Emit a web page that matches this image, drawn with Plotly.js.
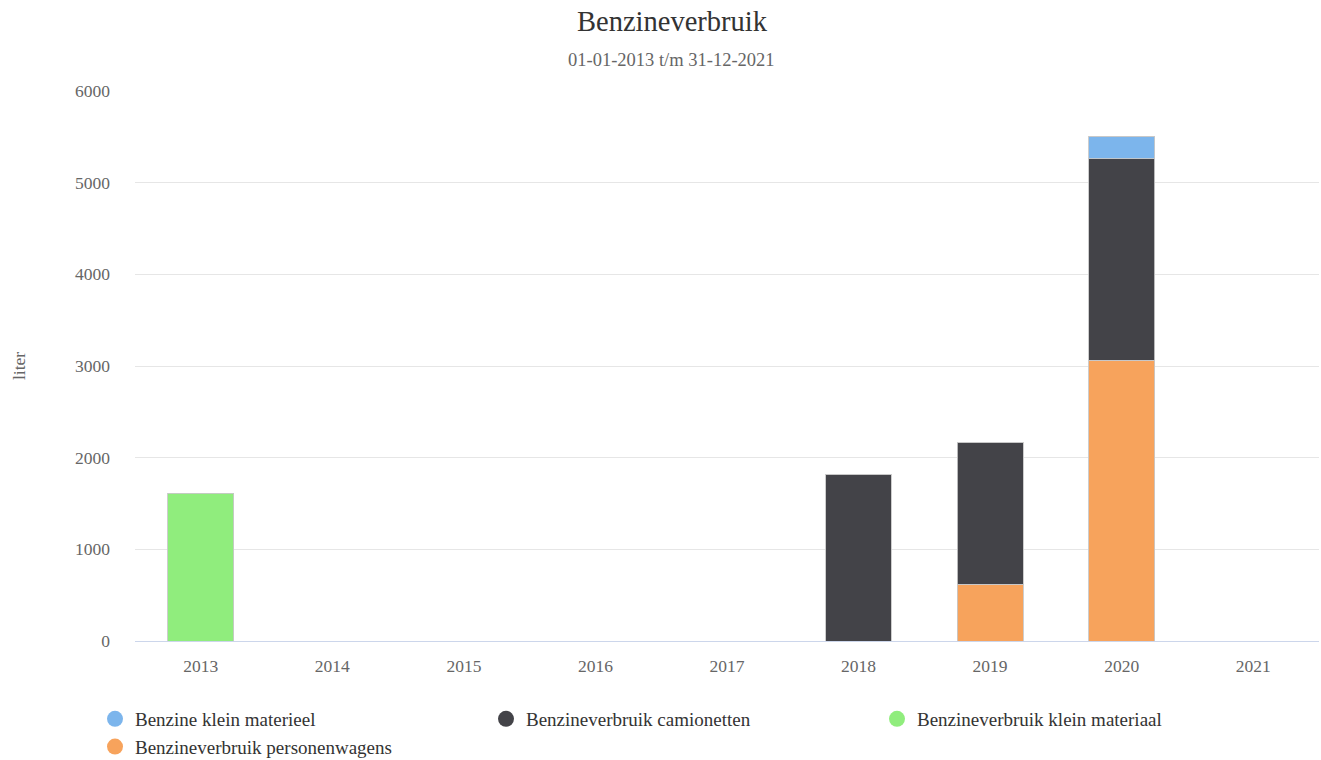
<!DOCTYPE html>
<html>
<head>
<meta charset="utf-8">
<script src="https://cdn.plot.ly/plotly-3.0.1.min.js"></script>
<style>html,body{margin:0;padding:0;background:#fff;}#chart{width:1321px;height:760px;}</style>
</head>
<body>
<div id="chart"></div>
<script>
const years = ['2013','2014','2015','2016','2017','2018','2019','2020','2021'];
const seriesNames = ['Benzine klein materieel','Benzineverbruik camionetten','Benzineverbruik klein materiaal','Benzineverbruik personenwagens'];
const kleinMaterieel   = [0, 0, 0, 0, 0, 0, 0, 240, 0];
const camionetten      = [0, 0, 0, 0, 0, 1820, 1545, 2195, 0];
const kleinMateriaal   = [1610, 0, 0, 0, 0, 0, 0, 0, 0];
const personenwagens   = [0, 0, 0, 0, 0, 0, 620, 3065, 0];
const colors = ['#7cb5ec', '#434348', '#90ed7d', '#f7a35c'];
const yTicks = [0, 1000, 2000, 3000, 4000, 5000, 6000];

const font = 'Liberation Serif, Times New Roman, serif';
const line = {color: 'rgba(200,200,200,0.9)', width: 1};

function bar(vals, idx) {
  return {type: 'bar', x: years, y: vals, name: seriesNames[idx], showlegend: false,
    marker: {color: colors[idx], line: line}, hoverinfo: 'x+y+name'};
}
function leg(idx, rank) {
  return {type: 'scatter', mode: 'markers', x: [null], y: [null], name: seriesNames[idx],
    legendrank: rank, marker: {color: colors[idx], size: 18, symbol: 'circle'}, hoverinfo: 'skip'};
}

const data = [
  bar(personenwagens, 3),
  bar(camionetten, 1),
  bar(kleinMaterieel, 0),
  bar(kleinMateriaal, 2),
  leg(0, 1), leg(1, 2), leg(2, 3), leg(3, 4)
];

const layout = {
  width: 1321, height: 760,
  margin: {l: 135, r: 2, t: 91, b: 119},
  paper_bgcolor: '#fff', plot_bgcolor: '#fff',
  font: {family: font, color: '#666', size: 17},
  barmode: 'stack', bargap: 0.5,
  title: {text: 'Benzineverbruik', font: {family: font, size: 28.5, color: '#333'},
    x: 672/1321, xanchor: 'center', xref: 'container', y: 1 - 21/760, yref: 'container', yanchor: 'middle'},
  annotations: [{text: '01-01-2013 t/m 31-12-2021', xref: 'paper', yref: 'paper',
    x: (671 - 135) / 1184, y: (641 - 60) / 550, xanchor: 'center', yanchor: 'middle', showarrow: false,
    font: {family: font, size: 18.5, color: '#666'}}],
  xaxis: {type: 'category', tickvals: years, showgrid: false, showline: true, linecolor: '#ccd6eb', linewidth: 1,
    ticks: '', tickfont: {size: 17.5, color: '#666'}, ticklabelstandoff: 9, fixedrange: true, zeroline: false},
  yaxis: {range: [0, 6000], tickvals: yTicks, gridcolor: '#e6e6e6', gridwidth: 1, zeroline: false,
    ticks: '', tickfont: {size: 17.5, color: '#666'}, ticklabelstandoff: 24,
    title: {text: 'liter', font: {size: 17.5, color: '#666'}, standoff: 44}, fixedrange: true},
  legend: {orientation: 'h', xref: 'container', yref: 'container', x: 95/1321, y: 1 - 700/760,
    xanchor: 'left', yanchor: 'top', entrywidth: 346, entrywidthmode: 'pixels',
    font: {family: font, size: 19, color: '#333'}, traceorder: 'normal', itemsizing: 'trace'},
  showlegend: true
};

Plotly.newPlot('chart', data, layout, {displayModeBar: false});
</script>
</body>
</html>
